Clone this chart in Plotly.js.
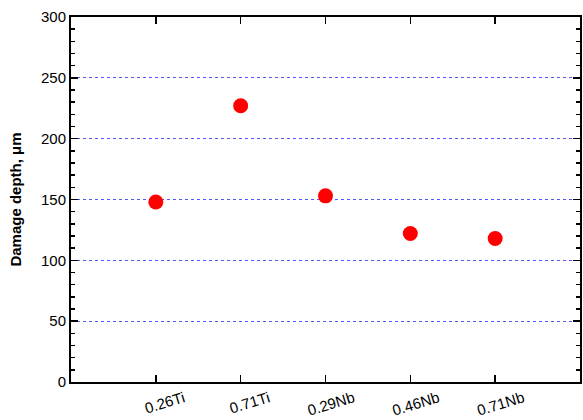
<!DOCTYPE html>
<html><head><meta charset="utf-8">
<script src="https://cdn.plot.ly/plotly-3.0.1.min.js"></script>
<style>html,body{margin:0;padding:0;background:#fff}#chart{width:583px;height:420px}</style>
</head><body><div id="chart"></div>
<script>
const categories = ["0.26Ti", "0.71Ti", "0.29Nb", "0.46Nb", "0.71Nb"];
const damageDepth = [148, 227, 153, 122, 118];
const yTicks = [0, 50, 100, 150, 200, 250, 300];

const trace = {
  x: categories.map((c, i) => i),
  y: damageDepth,
  type: 'scatter',
  mode: 'markers',
  marker: {color: '#ff0000', size: 15},
  hoverinfo: 'y'
};
const FF = '"Liberation Sans", Arial, sans-serif';
const layout = {
  width: 583, height: 420,
  margin: {l: 71, r: 3, t: 17, b: 38},
  paper_bgcolor: '#fff', plot_bgcolor: '#fff',
  showlegend: false,
  font: {family: FF, color: '#000'},
  xaxis: {
    range: [-1, 5],
    tickmode: 'array',
    tickvals: categories.map((c, i) => i),
    ticktext: categories,
    tickangle: -17,
    tickfont: {family: FF, size: 15, color: '#000'},
    ticklabelshift: 28,
    ticklabelstandoff: 0,
    ticks: 'inside', ticklen: 7, tickwidth: 1.5, tickcolor: '#000',
    showline: true, linecolor: '#000', linewidth: 2, mirror: 'allticks',
    showgrid: false, zeroline: false
  },
  yaxis: {
    range: [0, 300],
    tickmode: 'array',
    tickvals: yTicks,
    tickfont: {family: FF, size: 15, color: '#000'},
    ticks: 'inside', ticklen: 7, tickwidth: 1.5, tickcolor: '#000',
    minor: {dtick: 10, tick0: 0, ticks: 'inside', ticklen: 4, tickwidth: 1.5, tickcolor: '#000', showgrid: false},
    showline: true, linecolor: '#000', linewidth: 2, mirror: 'allticks',
    showgrid: true, gridcolor: '#5555ff', griddash: 'dot', gridwidth: 1,
    zeroline: false,
    title: {text: 'Damage depth, μm', font: {family: FF, size: 15, color: '#000', weight: 'bold'}, standoff: 16}
  }
};
Plotly.newPlot('chart', [trace], layout, {displayModeBar: false, staticPlot: true});
</script>
</body></html>
